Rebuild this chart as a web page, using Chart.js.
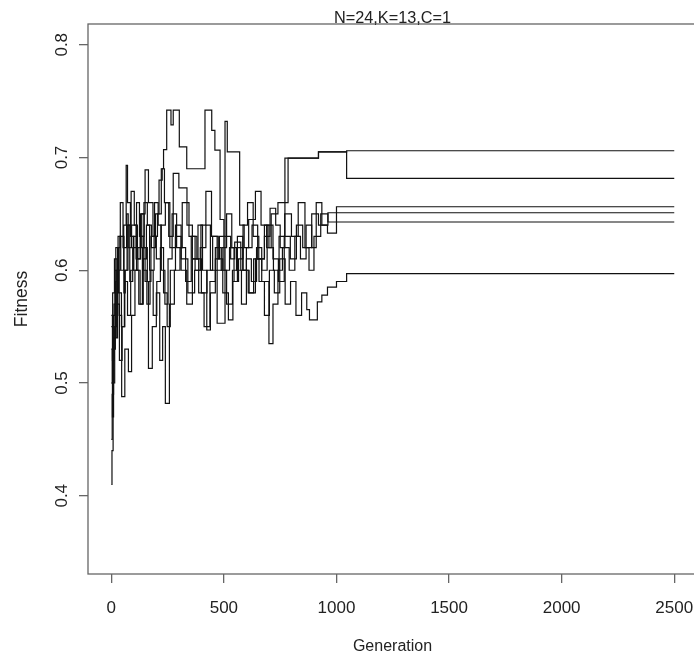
<!DOCTYPE html>
<html>
<head>
<meta charset="utf-8">
<title>Fitness</title>
<script src="https://cdn.jsdelivr.net/npm/chart.js@4/dist/chart.umd.min.js"></script>
<style>
  html, body { margin: 0; padding: 0; background: #fff; overflow: hidden; }
  canvas { display: block; }
</style>
</head>
<body>
<canvas id="myChart" width="704" height="656"></canvas>
<script>
// six runs, each a step series: fitness holds from gen[i] until gen[i+1]
const runAGen = [0, 6, 14, 25, 38, 52, 68, 75, 90, 110, 128, 145, 160, 178, 196, 212, 226, 232, 246, 265, 275, 302, 335, 416, 446, 460, 483, 500, 530, 548, 575, 600, 625, 650, 680, 705, 730, 750, 771, 920, 1045];
const runAFit = [0.55, 0.58, 0.61, 0.60, 0.63, 0.62, 0.65, 0.62, 0.64, 0.61, 0.63, 0.66, 0.64, 0.62, 0.65, 0.68, 0.69, 0.707, 0.742, 0.729, 0.742, 0.7095, 0.69, 0.742, 0.724, 0.7066, 0.645, 0.63, 0.61, 0.625, 0.60, 0.62, 0.64, 0.61, 0.63, 0.655, 0.64, 0.62, 0.6995, 0.705, 0.6815];

const runBGen = [0, 4, 10, 18, 30, 42, 55, 66, 72, 85, 100, 118, 135, 150, 165, 185, 200, 220, 240, 260, 285, 310, 340, 370, 395, 420, 440, 470, 505, 515, 570, 590, 610, 640, 665, 690, 710, 740, 785, 920, 1045];
const runBFit = [0.45, 0.49, 0.54, 0.59, 0.63, 0.60, 0.64, 0.693, 0.66, 0.63, 0.60, 0.62, 0.65, 0.689, 0.66, 0.63, 0.61, 0.64, 0.66, 0.62, 0.64, 0.61, 0.58, 0.60, 0.62, 0.64, 0.60, 0.553, 0.732, 0.705, 0.64, 0.62, 0.645, 0.67, 0.64, 0.62, 0.65, 0.66, 0.6995, 0.705, 0.706];

const runCGen = [0, 5, 12, 20, 32, 45, 58, 70, 82, 95, 112, 125, 142, 158, 172, 190, 205, 222, 236, 255, 275, 300, 336, 360, 385, 405, 424, 440, 462, 480, 500, 525, 545, 565, 585, 605, 630, 655, 680, 700, 720, 745, 770, 800, 830, 860, 890, 920, 960, 1000];
const runCFit = [0.56, 0.52, 0.57, 0.62, 0.58, 0.55, 0.60, 0.64, 0.59, 0.62, 0.66, 0.63, 0.60, 0.57, 0.60, 0.63, 0.65, 0.69, 0.66, 0.63, 0.686, 0.673, 0.64, 0.61, 0.64, 0.60, 0.547, 0.58, 0.61, 0.63, 0.60, 0.62, 0.59, 0.61, 0.64, 0.66, 0.63, 0.61, 0.64, 0.62, 0.60, 0.63, 0.65, 0.63, 0.66, 0.62, 0.65, 0.64, 0.633, 0.6563];

const runDGen = [0, 3, 8, 15, 24, 35, 46, 60, 76, 90, 105, 122, 138, 150, 165, 182, 200, 215, 228, 240, 258, 280, 305, 330, 355, 380, 400, 425, 450, 475, 495, 520, 540, 560, 585, 612, 640, 668, 700, 718, 740, 760, 790, 815, 840, 865, 890, 910, 935, 962];
const runDFit = [0.41, 0.44, 0.50, 0.55, 0.60, 0.56, 0.488, 0.53, 0.51, 0.56, 0.60, 0.57, 0.62, 0.59, 0.513, 0.55, 0.58, 0.52, 0.55, 0.482, 0.57, 0.60, 0.62, 0.59, 0.63, 0.61, 0.58, 0.60, 0.63, 0.61, 0.58, 0.556, 0.59, 0.62, 0.60, 0.58, 0.61, 0.59, 0.535, 0.57, 0.60, 0.62, 0.60, 0.63, 0.61, 0.64, 0.62, 0.66, 0.64, 0.651];

const runEGen = [0, 5, 10, 18, 22, 28, 40, 52, 56, 62, 74, 88, 102, 116, 130, 146, 160, 176, 192, 208, 222, 238, 252, 270, 290, 315, 345, 372, 398, 420, 445, 470, 492, 512, 535, 556, 578, 600, 622, 645, 668, 692, 718, 742, 768, 795, 822, 850, 878, 900, 930, 962];
const runEFit = [0.50, 0.47, 0.53, 0.57, 0.54, 0.62, 0.66, 0.63, 0.58, 0.60, 0.64, 0.67, 0.64, 0.61, 0.65, 0.62, 0.59, 0.63, 0.66, 0.64, 0.60, 0.57, 0.61, 0.65, 0.62, 0.66, 0.63, 0.60, 0.64, 0.67, 0.63, 0.60, 0.62, 0.65, 0.62, 0.60, 0.57, 0.61, 0.59, 0.62, 0.60, 0.64, 0.61, 0.59, 0.63, 0.61, 0.64, 0.62, 0.60, 0.63, 0.65, 0.6428];

const runFGen = [0, 4, 9, 16, 26, 36, 48, 60, 72, 86, 98, 112, 128, 142, 156, 170, 186, 202, 218, 232, 248, 262, 285, 310, 335, 360, 388, 412, 438, 462, 488, 512, 538, 560, 584, 608, 632, 656, 680, 702, 724, 748, 772, 796, 820, 845, 868, 880, 915, 935, 960, 1000, 1045];
const runFFit = [0.53, 0.50, 0.56, 0.60, 0.57, 0.52, 0.55, 0.59, 0.56, 0.60, 0.63, 0.60, 0.57, 0.61, 0.64, 0.60, 0.56, 0.59, 0.62, 0.58, 0.55, 0.60, 0.63, 0.60, 0.57, 0.61, 0.58, 0.55, 0.59, 0.62, 0.60, 0.57, 0.60, 0.63, 0.60, 0.58, 0.61, 0.59, 0.56, 0.60, 0.58, 0.61, 0.57, 0.59, 0.56, 0.58, 0.565, 0.556, 0.572, 0.578, 0.585, 0.59, 0.597];

const lastGen = 2500;
const xTicks = [0, 500, 1000, 1500, 2000, 2500];
const yTicks = [0.4, 0.5, 0.6, 0.7, 0.8];
const titleText = "N=24,K=13,C=1";
const xLabel = "Generation";
const yLabel = "Fitness";

const runs = [
  [runAGen, runAFit], [runBGen, runBFit], [runCGen, runCFit],
  [runDGen, runDFit], [runEGen, runEFit], [runFGen, runFFit]
];

function stepData(gens, fits) {
  const pts = gens.map((g, i) => ({ x: g, y: fits[i] }));
  pts.push({ x: lastGen, y: fits[fits.length - 1] });
  return pts;
}

const FONT = "'Liberation Sans', Arial, sans-serif";
const AXIS_GREY = "#666";

// R-style frame and text, drawn from the chart's own scales
const basePlot = {
  id: "basePlot",
  afterDraw(chart) {
    const ctx = chart.ctx;
    const a = chart.chartArea;
    const xs = chart.scales.x;
    const ys = chart.scales.y;
    ctx.save();
    ctx.strokeStyle = AXIS_GREY;
    ctx.lineWidth = 1.3;
    ctx.strokeRect(a.left, a.top, a.right - a.left, a.bottom - a.top);

    ctx.fillStyle = "#222";
    ctx.textAlign = "center";
    ctx.textBaseline = "alphabetic";

    ctx.font = "17px " + FONT;
    xTicks.forEach(v => ctx.fillText(String(v), xs.getPixelForValue(v), 613));

    yTicks.forEach(v => {
      ctx.save();
      ctx.translate(66.5, ys.getPixelForValue(v));
      ctx.rotate(-Math.PI / 2);
      ctx.fillText(v.toFixed(1), 0, 0);
      ctx.restore();
    });

    ctx.font = "16px " + FONT;
    ctx.fillText(xLabel, (a.left + a.right) / 2, 651);
    ctx.font = "16.3px " + FONT;
    ctx.fillText(titleText, (a.left + a.right) / 2, 22.5);

    ctx.font = "17.5px " + FONT;
    ctx.save();
    ctx.translate(26.5, (a.top + a.bottom) / 2);
    ctx.rotate(-Math.PI / 2);
    ctx.fillText(yLabel, 0, 0);
    ctx.restore();
    ctx.restore();
  }
};

new Chart(document.getElementById("myChart"), {
  type: "line",
  data: {
    datasets: runs.map(r => ({
      data: stepData(r[0], r[1]),
      stepped: true,
      borderColor: "#111",
      borderWidth: 1.2,
      pointRadius: 0,
      fill: false
    }))
  },
  options: {
    responsive: false,
    animation: false,
    layout: { padding: { top: 24, right: 7, left: 0, bottom: 0 } },
    plugins: { legend: { display: false }, tooltip: { enabled: false } },
    scales: {
      x: {
        type: "linear",
        min: -103.5,
        max: 2601,
        afterBuildTicks: s => { s.ticks = xTicks.map(v => ({ value: v })); },
        afterFit: s => { s.height = 82; },
        ticks: { display: false },
        grid: { drawOnChartArea: false, drawTicks: true, tickLength: 9, color: AXIS_GREY, lineWidth: 1.3 },
        border: { display: false }
      },
      y: {
        type: "linear",
        min: 0.3306,
        max: 0.8184,
        afterBuildTicks: s => { s.ticks = yTicks.map(v => ({ value: v })); },
        afterFit: s => { s.width = 88; },
        ticks: { display: false },
        grid: { drawOnChartArea: false, drawTicks: true, tickLength: 9, color: AXIS_GREY, lineWidth: 1.3 },
        border: { display: false }
      }
    }
  },
  plugins: [basePlot]
});
</script>
</body>
</html>
